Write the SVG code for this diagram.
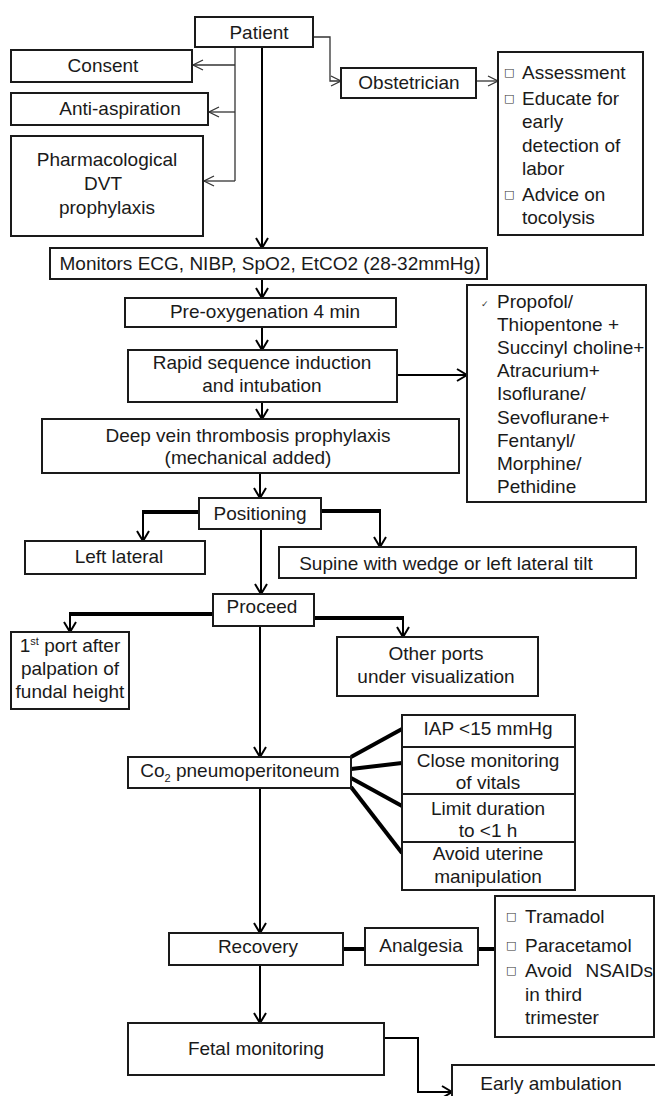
<svg xmlns="http://www.w3.org/2000/svg" width="655" height="1096" viewBox="0 0 655 1096">
<style>
.box{fill:#fff;stroke:#1a1a1a;stroke-width:2}
.t{font-family:"Liberation Sans",Arial,sans-serif;font-size:19px;fill:#1a1a1a}
.c{text-anchor:middle}
.b{font-family:"DejaVu Sans",sans-serif;font-size:11px;fill:#333}
.thin{stroke:#333;stroke-width:1.3;fill:none}
.flow{stroke:#000;stroke-width:2;fill:none}
.thick{stroke:#000;stroke-width:4;fill:none}
</style>
<defs>
<marker id="ah" viewBox="-1 -1 13 14" refX="10" refY="6" markerWidth="13" markerHeight="14" markerUnits="userSpaceOnUse" orient="auto">
<path d="M0,0 L10,6 L0,12" fill="none" stroke="#000" stroke-width="2"/>
</marker>
<marker id="aht" viewBox="-1 -1 13 14" refX="10" refY="6" markerWidth="13" markerHeight="14" markerUnits="userSpaceOnUse" orient="auto">
<path d="M0,1 L10,6 L0,11" fill="none" stroke="#333" stroke-width="1.3"/>
</marker>
</defs>
<rect width="655" height="1096" fill="#fff"/>
<g id="connectors">
<path class="flow" d="M262,47 V248" marker-end="url(#ah)"/>
<path class="thin" d="M235,47 V181"/>
<path class="thin" d="M235,65 H193" marker-end="url(#aht)"/>
<path class="thin" d="M235,112 H209" marker-end="url(#aht)"/>
<path class="thin" d="M235,181 H204" marker-end="url(#aht)"/>
<path class="thin" d="M313,37 H330 V81 H341" marker-end="url(#aht)"/>
<path class="thin" d="M476,81 H498" marker-end="url(#aht)"/>
<path class="flow" d="M262,279 V298" marker-end="url(#ah)"/>
<path class="flow" d="M262,327 V350" marker-end="url(#ah)"/>
<path class="flow" d="M397,375 H467" marker-end="url(#ah)"/>
<path class="flow" d="M262,402 V419" marker-end="url(#ah)"/>
<path class="flow" d="M260,473 V498" marker-end="url(#ah)"/>
<path class="thick" d="M199,512 H142"/>
<path class="flow" d="M143,510 V541" marker-end="url(#ah)"/>
<path class="thick" d="M321,511 H381"/>
<path class="flow" d="M380,509 V547" marker-end="url(#ah)"/>
<path class="flow" d="M261,529 V594" marker-end="url(#ah)"/>
<path class="thick" d="M213,614 H69"/>
<path class="flow" d="M70,612 V632" marker-end="url(#ah)"/>
<path class="thick" d="M314,618 H404"/>
<path class="flow" d="M403,616 V637" marker-end="url(#ah)"/>
<path class="flow" d="M260,626 V757" marker-end="url(#ah)"/>
<path class="thick" d="M351,757 L402,729"/>
<path class="thick" d="M351,769 L402,763"/>
<path class="thick" d="M351,778 L402,806"/>
<path class="thick" d="M351,787 L402,853"/>
<path class="flow" d="M260,788 V933" marker-end="url(#ah)"/>
<path class="thick" d="M343,949 H365"/>
<path class="thick" d="M478,949 H495"/>
<path class="flow" d="M260,965 V1023" marker-end="url(#ah)"/>
<path class="flow" d="M384,1038 H418 V1092 H452" marker-end="url(#ah)"/>
</g>
<g id="patient"><rect class="box" x="195" y="17" width="118" height="30"/><text class="t c" x="259" y="39">Patient</text></g>
<g id="consent"><rect class="box" x="11" y="50" width="181" height="32"/><text class="t c" x="103" y="72">Consent</text></g>
<g id="anti-aspiration"><rect class="box" x="11" y="93" width="197" height="32"/><text class="t c" x="120" y="115">Anti-aspiration</text></g>
<g id="pharmacological"><rect class="box" x="11" y="136" width="192" height="100"/><text class="t c" x="107"><tspan x="107" y="166">Pharmacological</tspan><tspan x="103" y="190">DVT</tspan><tspan x="107" y="214">prophylaxis</tspan></text></g>
<g id="obstetrician"><rect class="box" x="341" y="68" width="135" height="30"/><text class="t c" x="409" y="89">Obstetrician</text></g>
<g id="obstetrician-list"><rect class="box" x="498" y="52" width="145" height="183"/>
<text class="b" x="504" y="76">□</text><text class="b" x="504" y="102">□</text><text class="b" x="504" y="198">□</text>
<text class="t"><tspan x="522" y="79">Assessment</tspan><tspan x="522" y="105">Educate for</tspan><tspan x="522" y="128">early</tspan><tspan x="522" y="152">detection of</tspan><tspan x="522" y="175">labor</tspan><tspan x="522" y="201">Advice on</tspan><tspan x="522" y="224">tocolysis</tspan></text></g>
<g id="monitors"><rect class="box" x="50" y="248" width="437" height="31"/><text class="t c" x="270" y="270">Monitors ECG, NIBP, SpO2, EtCO2 (28-32mmHg)</text></g>
<g id="preoxygenation"><rect class="box" x="125" y="298" width="271" height="29"/><text class="t c" x="265" y="318">Pre-oxygenation 4 min</text></g>
<g id="rsi"><rect class="box" x="128" y="350" width="269" height="52"/><text class="t c"><tspan x="262" y="369">Rapid sequence induction</tspan><tspan x="262" y="392">and intubation</tspan></text></g>
<g id="drugs"><rect class="box" x="467" y="285" width="179" height="217"/>
<text class="b" x="481" y="307" style="font-size:9px">✓</text>
<text class="t"><tspan x="497" y="308">Propofol/</tspan><tspan x="497" y="331">Thiopentone +</tspan><tspan x="497" y="354">Succinyl choline+</tspan><tspan x="497" y="377">Atracurium+</tspan><tspan x="497" y="400">Isoflurane/</tspan><tspan x="497" y="424">Sevoflurane+</tspan><tspan x="497" y="447">Fentanyl/</tspan><tspan x="497" y="470">Morphine/</tspan><tspan x="497" y="493">Pethidine</tspan></text></g>
<g id="dvt-mechanical"><rect class="box" x="42" y="419" width="417" height="54"/><text class="t c"><tspan x="248" y="442">Deep vein thrombosis prophylaxis</tspan><tspan x="248" y="464">(mechanical added)</tspan></text></g>
<g id="positioning"><rect class="box" x="199" y="498" width="122" height="31"/><text class="t c" x="260" y="520">Positioning</text></g>
<g id="left-lateral"><rect class="box" x="25" y="541" width="180" height="33"/><text class="t c" x="119" y="563">Left lateral</text></g>
<g id="supine"><rect class="box" x="279" y="547" width="357" height="31"/><text class="t c" x="446" y="570">Supine with wedge or left lateral tilt</text></g>
<g id="proceed"><rect class="box" x="213" y="594" width="101" height="32"/><text class="t c" x="262" y="613">Proceed</text></g>
<g id="first-port"><rect class="box" x="11" y="632" width="118" height="77"/><text class="t c"><tspan x="70" y="652">1<tspan font-size="11" dy="-7">st</tspan><tspan dy="7"> port after</tspan></tspan><tspan x="70" y="675">palpation of</tspan><tspan x="70" y="698">fundal height</tspan></text></g>
<g id="other-ports"><rect class="box" x="337" y="637" width="201" height="59"/><text class="t c"><tspan x="436" y="660">Other ports</tspan><tspan x="436" y="683">under visualization</tspan></text></g>
<g id="co2"><rect class="box" x="128" y="757" width="223" height="31"/><text class="t c" x="240" y="777">Co<tspan font-size="11" dy="5">2</tspan><tspan dy="-5"> pneumoperitoneum</tspan></text></g>
<g id="precautions">
<rect class="box" x="402" y="715" width="173" height="32"/>
<rect class="box" x="402" y="747" width="173" height="47"/>
<rect class="box" x="402" y="794" width="173" height="48"/>
<rect class="box" x="402" y="842" width="173" height="48"/>
<text class="t c" x="488" y="735">IAP &lt;15 mmHg</text>
<text class="t c"><tspan x="488" y="767">Close monitoring</tspan><tspan x="488" y="789">of vitals</tspan></text>
<text class="t c"><tspan x="488" y="815">Limit duration</tspan><tspan x="488" y="837">to &lt;1 h</tspan></text>
<text class="t c"><tspan x="488" y="860">Avoid uterine</tspan><tspan x="488" y="883">manipulation</tspan></text>
</g>
<g id="recovery"><rect class="box" x="169" y="933" width="174" height="32"/><text class="t c" x="258" y="953">Recovery</text></g>
<g id="analgesia"><rect class="box" x="365" y="928" width="113" height="37"/><text class="t c" x="421" y="952">Analgesia</text></g>
<g id="analgesics"><rect class="box" x="495" y="896" width="159" height="141"/>
<text class="b" x="506" y="920">□</text><text class="b" x="506" y="949">□</text><text class="b" x="506" y="974">□</text>
<text class="t"><tspan x="525" y="923">Tramadol</tspan><tspan x="525" y="952">Paracetamol</tspan><tspan x="525" y="977" word-spacing="8">Avoid NSAIDs</tspan><tspan x="525" y="1001">in third</tspan><tspan x="525" y="1024">trimester</tspan></text></g>
<g id="fetal-monitoring"><rect class="box" x="128" y="1023" width="256" height="52"/><text class="t c" x="256" y="1055">Fetal monitoring</text></g>
<g id="early-ambulation"><rect class="box" x="452" y="1065" width="210" height="40"/><text class="t c" x="551" y="1090">Early ambulation</text></g>
</svg>
